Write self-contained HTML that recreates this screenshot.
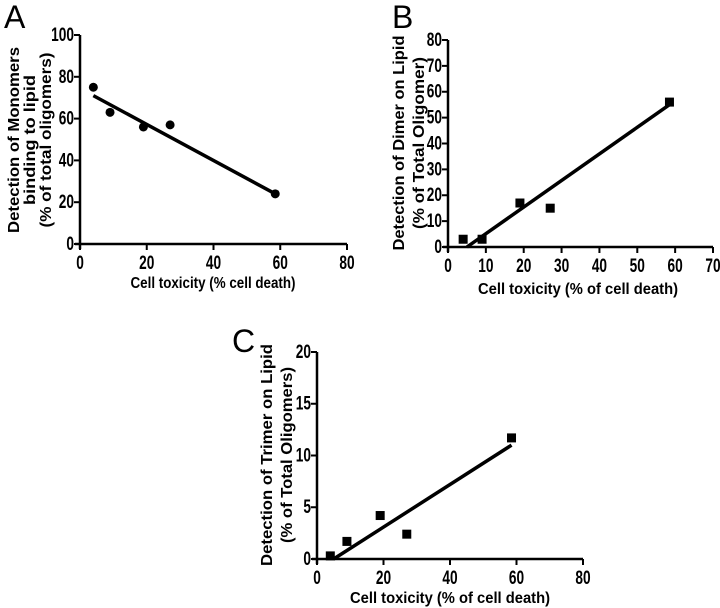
<!DOCTYPE html>
<html><head><meta charset="utf-8"><style>
body{margin:0;background:#fff}
svg{display:block}
text{font-family:"Liberation Sans",sans-serif;font-weight:bold;fill:#000}
</style></head><body>
<svg id="fig" width="720" height="608" viewBox="0 0 720 608" xmlns="http://www.w3.org/2000/svg">
<text x="4" y="28" font-size="32" style="font-weight:normal">A</text>
<text x="392" y="28" font-size="32" style="font-weight:normal">B</text>
<text x="232" y="352" font-size="32" style="font-weight:normal">C</text>
</svg>
<script>
const xValues = [4, 9, 19, 27, 58.5];
const monomerValues = [75, 63, 56, 57, 24];
const dimerValues = [3, 3, 17, 15, 56];
const trimerValues = [0.3, 1.7, 4.2, 2.4, 11.7];
const monomerFit = [[4, 71], [58.5, 24]];
const dimerFit = [[5, 0], [58.5, 55]];
const trimerFit = [[5, 0], [58.5, 11]];
const ticksA_x = [0, 20, 40, 60, 80], ticksA_y = [0, 20, 40, 60, 80, 100];
const ticksB_x = [0, 10, 20, 30, 40, 50, 60, 70], ticksB_y = [0, 10, 20, 30, 40, 50, 60, 70, 80];
const ticksC_x = [0, 20, 40, 60, 80], ticksC_y = [0, 5, 10, 15, 20];

const NS = "http://www.w3.org/2000/svg";
const svg = document.getElementById('fig');
function mk(tag, attrs, parent) {
  const e = document.createElementNS(NS, tag);
  for (const k in attrs) e.setAttribute(k, attrs[k]);
  (parent || svg).appendChild(e);
  return e;
}
function panel(p) {
  const g = mk('g', {});
  
  
  const sx = v => p.x0 + (v - p.xmin) / (p.xmax - p.xmin) * (p.x1 - p.x0);
  const sy = v => p.y0 - (v - p.ymin) / (p.ymax - p.ymin) * (p.y0 - p.y1);
  const ya = mk('line', {x1: p.x0, y1: p.y1, x2: p.x0, y2: p.y0 + 5, stroke: '#000', 'stroke-width': 2.5}, g);
  
  
  const xa = mk('line', {x1: p.x0 - 5, y1: p.y0, x2: p.x1, y2: p.y0, stroke: '#000', 'stroke-width': 2.5}, g);
  
  
  const S = 0.72;
  p.tx.forEach(v => {
    mk('line', {x1: sx(v), y1: p.y0, x2: sx(v), y2: p.y0 + 6, stroke: '#000', 'stroke-width': 2}, g);
    const t = mk('text', {x: sx(v) / S, y: p.y0 + 25, 'font-size': 19, 'text-anchor': 'middle', transform: `scale(${S},1)`}, g);
    t.textContent = v;
    
    
  });
  p.ty.forEach(v => {
    mk('line', {x1: p.x0 - 6, y1: sy(v), x2: p.x0, y2: sy(v), stroke: '#000', 'stroke-width': 2}, g);
    const t = mk('text', {x: (p.x0 - 6) / S, y: sy(v) + 6, 'font-size': 19, 'text-anchor': 'end', transform: `scale(${S},1)`}, g);
    t.textContent = v;
    
    
  });
  const fl = mk('line', {x1: sx(p.fit[0][0]), y1: sy(p.fit[0][1]), x2: sx(p.fit[1][0]), y2: sy(p.fit[1][1]), stroke: '#000', 'stroke-width': 3.5}, g);
  
  
  p.xs.forEach((xv, i) => {
    let m;
    if (p.marker === 'circle') m = mk('circle', {cx: sx(xv), cy: sy(p.ys[i]), r: 4.5, fill: '#000'}, g);
    else m = mk('rect', {x: sx(xv) - 4.5, y: sy(p.ys[i]) - 4.5, width: 9, height: 9, fill: '#000'}, g);
    
    
  });
  const xt = mk('text', {x: p.xtx, y: p.xty, 'font-size': 16, 'text-anchor': 'middle', textLength: p.xtl, lengthAdjust: 'spacingAndGlyphs'}, g);
  xt.textContent = p.xtitle;
  
  
  p.ytitle.forEach((line, i) => {
    const cx = p.ytx[i], cy = p.yty;
    const t = mk('text', {x: 0, y: 0, 'font-size': 16, 'text-anchor': 'middle', textLength: p.ytl[i], lengthAdjust: 'spacingAndGlyphs', transform: `translate(${cx},${cy}) rotate(-90)`}, g);
    t.textContent = line;
    
    
  });
}
panel({name: 'panel-a', x0: 80, x1: 347, y0: 244, y1: 35, xmin: 0, xmax: 80, ymin: 0, ymax: 100,
  tx: ticksA_x, ty: ticksA_y, xs: xValues, ys: monomerValues, fit: monomerFit, marker: 'circle',
  xtitle: 'Cell toxicity (%  cell death)', xtx: 213, xty: 288, xtl: 165,
  ytitle: ['Detection of Monomers', 'binding to lipid', '(% of total oligomers)'], ytx: [19, 35, 51], yty: 140, ytl: [186, 130, 175]});
panel({name: 'panel-b', x0: 448, x1: 713, y0: 247, y1: 40, xmin: 0, xmax: 70, ymin: 0, ymax: 80,
  tx: ticksB_x, ty: ticksB_y, xs: xValues, ys: dimerValues, fit: dimerFit, marker: 'square',
  xtitle: 'Cell toxicity (%  of cell death)', xtx: 578, xty: 294, xtl: 200,
  ytitle: ['Detection of Dimer on Lipid', '(% of Total Oligomer)'], ytx: [404, 424], yty: 143, ytl: [215, 172]});
panel({name: 'panel-c', x0: 317, x1: 583, y0: 559, y1: 352, xmin: 0, xmax: 80, ymin: 0, ymax: 20,
  tx: ticksC_x, ty: ticksC_y, xs: xValues, ys: trimerValues, fit: trimerFit, marker: 'square',
  xtitle: 'Cell toxicity (%  of cell death)', xtx: 450, xty: 603, xtl: 200,
  ytitle: ['Detection of Trimer on Lipid', '(% of Total Oligomers)'], ytx: [272, 292], yty: 455, ytl: [222, 176]});
</script>
</body></html>
